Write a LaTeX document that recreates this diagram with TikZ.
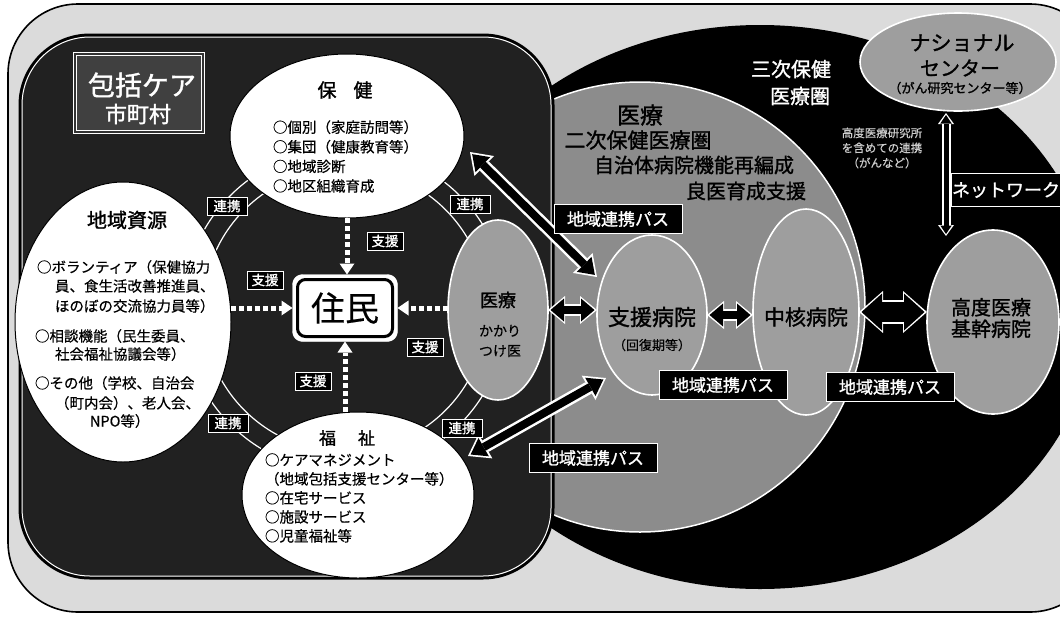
\documentclass[tikz,border=0pt]{standalone}
\usepackage{fontspec}
\setmainfont{Noto Sans CJK JP}[FakeBold=0.4]
\newfontfamily\jpb{Noto Sans CJK JP}[FakeBold=1.3]
\usetikzlibrary{shapes.geometric,arrows.meta,calc}
\definecolor{lite}{gray}{0.86}
\definecolor{dark}{gray}{0.13}
\definecolor{midg}{gray}{0.55}
\definecolor{ellg}{gray}{0.62}
\newcommand\fs[2]{\fontsize{#1}{#2}\selectfont}
\begin{document}
\begin{tikzpicture}[x=1pt,y=-1pt,
 every node/.style={inner sep=0pt,outer sep=0pt},
 wellipse/.style={ellipse, fill=white, draw=black, line width=1pt},
 gellipse/.style={ellipse, fill=ellg, draw=white, line width=1.6pt},
 tag/.style={fill=black, draw=white, line width=1pt, text=white},
 pathtag/.style={tag, font=\jpb\fs{17}{17}, minimum width=128pt, minimum height=29pt},
 supptag/.style={tag, font=\jpb\fs{13.5}{13.5}, minimum width=36pt, minimum height=18pt},
 linktag/.style={tag, font=\jpb\fs{13.5}{13.5}, minimum width=40pt, minimum height=18pt},
 body/.style={font=\fs{14.5}{19.6}, anchor=west, align=left},
 ttl/.style={font=\jpb\fs{#1}{#1}},
 dotarr/.style={draw=white, line width=5pt, dash pattern=on 5pt off 3pt, -{Triangle[length=11pt,width=15pt,line width=0pt]}},
 outW/.style={draw=white, line width=13pt, >={Triangle[length=20pt,width=28pt,line width=0pt]}, <->},
 outB/.style={draw=black, line width=8pt, shorten <=3pt, shorten >=3pt, >={Triangle[length=15pt,width=21pt,line width=0pt]}, <->},
 blkW/.style={draw=white, line width=12pt, >={Triangle[length=17pt,width=28pt,line width=0pt]}, <->},
 blkB/.style={draw=black, line width=8pt, shorten <=2.5pt, shorten >=2.5pt, >={Triangle[length=13.5pt,width=23pt,line width=0pt]}, <->},
 bigW/.style={draw=white, line width=24pt, >={Triangle[length=24pt,width=42pt,line width=0pt]}, <->},
 bigB/.style={draw=black, line width=20pt, shorten <=2.5pt, shorten >=2.5pt, >={Triangle[length=20.5pt,width=37pt,line width=0pt]}, <->},
 thinW/.style={draw=white, line width=9pt, >={Triangle[length=11pt,width=16pt,line width=0pt]}, <->},
 thinB/.style={draw=black, line width=5pt, shorten <=2pt, shorten >=2pt, >={Triangle[length=8.5pt,width=11.5pt,line width=0pt]}, <->}
]
\useasboundingbox (0,0) rectangle (1060,619);
\clip (0,0) rectangle (1060,619);

% outer frame and background regions
\draw[fill=lite, line width=1.6pt, rounded corners=70pt] (8,4) rectangle (1100,612);
\begin{scope}
 \clip[rounded corners=70pt] (8,4) rectangle (1100,612);
 \fill[black] (760,307) ellipse [x radius=336pt, y radius=282pt];
\end{scope}
\draw[fill=midg, draw=white, line width=1.5pt] (640,307) circle [radius=225pt];
\draw[fill=dark, draw=black, line width=3pt, rounded corners=70pt] (20,35) rectangle (553,578);
\draw[draw=white, line width=1pt, rounded corners=68pt] (22,37) rectangle (551,576);

% ring around residents
\draw[white, line width=1.2pt] (345,310) circle [radius=142pt];
\draw[white, line width=1.2pt] (345,310) circle [radius=162pt];

% municipality box
\node[draw=white, line width=1.2pt, double=black!80, double distance=2pt, fill=black!75, minimum width=128pt, minimum height=78pt] (hbox) at (139,93) {};
\node[ttl=27, text=white] (hboxT) at (142,85) {包括ケア};
\node[ttl=22, text=white] (hboxS) at (138,114) {市町村};

% health
\node[wellipse, minimum width=234pt, minimum height=164pt] (hoken) at (347,136) {};
\node[ttl=19] (hokenT) at (345,90) {保\hspace{17pt}健};
\node[body] (hokenL) at (273,156.5) {○個別（家庭訪問等）\\○集団（健康教育等）\\○地域診断\\○地区組織育成};

% local resources
\node[wellipse, minimum width=216pt, minimum height=280pt] (chiiki) at (123,322) {};
\node[ttl=20] (chiikiT) at (127,220) {地域資源};
\node[body] (c1) at (37,267) {○ボランティア（保健協力};
\node[body] (c2) at (55,286) {員、食生活改善推進員、};
\node[body] (c3) at (55,306) {ほのぼの交流協力員等）};
\node[body] (c4) at (35,336) {○相談機能（民生委員、};
\node[body] (c5) at (55,354) {社会福祉協議会等）};
\node[body] (c6) at (35,383) {○その他（学校、自治会};
\node[body] (c7) at (55,403) {（町内会）、老人会、};
\node[body] (c8) at (90,421) {NPO等）};

% welfare
\node[wellipse, minimum width=232pt, minimum height=166pt] (fukushi) at (358,495) {};
\node[ttl=17] (fukuT) at (347,438) {福\hspace{22pt}祉};
\node[body, font=\fs{14.5}{19}] (fukuL) at (265,498) {○ケアマネジメント\\（地域包括支援センター等）\\○在宅サービス\\○施設サービス\\○児童福祉等};

% residents
\node[fill=white, draw=white, rounded corners=10pt, minimum width=105pt, minimum height=67pt] (jumin) at (345,308) {};
\node[fill=white, draw=black, line width=3pt, rounded corners=8pt, minimum width=95pt, minimum height=57pt, font=\fs{34}{34}] (juminT) at (345,308) {住民};

% family doctor
\node[gellipse, minimum width=100pt, minimum height=180pt] (iryo) at (498,310) {};
\node[ttl=18] (iryoT) at (498,300) {医療};
\node[font=\fs{14}{20}, align=center] (iryoS) at (500,341) {かかり\\つけ医};

% hospitals
\node[gellipse, minimum width=110pt, minimum height=160pt] (shien) at (652,315) {};
\node[ttl=22] (shienT) at (652,317) {支援病院};
\node[font=\fs{13}{13}] (shienS) at (652,345) {（回復期等）};
\node[gellipse, minimum width=106pt, minimum height=206pt] (chukaku) at (806,312) {};
\node[ttl=21] (chukakuT) at (806,317) {中核病院};
\node[gellipse, minimum width=132pt, minimum height=184pt] (kodo) at (993,322) {};
\node[align=center, font=\jpb\fs{20}{21.5}] (kodoT) at (991,318) {高度医療\\基幹病院};
\node[gellipse, minimum width=196pt, minimum height=98pt] (national) at (958,62) {};
\node[ttl=21] (natT) at (962,43) {ナショナル};
\node[ttl=20] (natS) at (960,68) {センター};
\node[font=\jpb\fs{13}{13}] (natU) at (960,88) {（がん研究センター等）};

% region texts
\node[ttl=23] (g1) at (640,115) {医療};
\node[ttl=21] (g2) at (638,140) {二次保健医療圏};
\node[ttl=20] (g3) at (694,165) {自治体病院機能再編成};
\node[ttl=20] (g4) at (746,191) {良医育成支援};
\node[ttl=20, text=white] (b1) at (791,69) {三次保健};
\node[ttl=20, text=white] (b2) at (800,96) {医療圏};
\node[font=\fs{11.5}{15}, text=white!80!black, align=center] (b3) at (882,148) {高度医療研究所\\を含めての連携\\（がんなど）};

% support arrows
\draw[dotarr] (hoken.south) -- (hoken.south |- jumin.north);
\draw[dotarr] (jumin.west -| chiiki.east) -- (jumin.west);
\draw[dotarr] (jumin.east -| iryo.west) -- (jumin.east);
\draw[dotarr] (fukushi.north -| jumin.south) -- (jumin.south);

% fat arrows
\draw[blkW] (iryo.east) -- (iryo.east -| shien.west);
\draw[blkB] (iryo.east) -- (iryo.east -| shien.west);
\draw[blkW] (shien.east) -- (shien.east -| chukaku.west);
\draw[blkB] (shien.east) -- (shien.east -| chukaku.west);
\draw[bigW] (chukaku.east) -- (chukaku.east -| kodo.west);
\draw[bigB] (chukaku.east) -- (chukaku.east -| kodo.west);

% pathway arrows
\coordinate (a1s) at (470,152);
\coordinate (a1e) at (597,277);
\coordinate (a2s) at (606,378);
\coordinate (a2e) at (468,456);
\draw[outW] (a1s) -- (a1e);
\draw[outB] (a1s) -- (a1e);
\draw[outW] (a2s) -- (a2e);
\draw[outB] (a2s) -- (a2e);
\coordinate (v1) at (946,113);
\coordinate (v2) at (946,236);
\draw[thinW] (v1) -- (v2);
\draw[thinB] (v1) -- (v2);

% labels
\node[supptag] (s1) at (385,241) {支援};
\node[supptag] (s2) at (265,280) {支援};
\node[supptag] (s3) at (425,347) {支援};
\node[supptag] (s4) at (313,381) {支援};
\node[linktag] (k1) at (227,206) {連携};
\node[linktag] (k2) at (470,204) {連携};
\node[linktag] (k3) at (228,423) {連携};
\node[linktag] (k4) at (462,428) {連携};
\node[pathtag] (p1) at (618,219) {地域連携パス};
\node[pathtag] (p2) at (723,385) {地域連携パス};
\node[pathtag] (p3) at (890,387) {地域連携パス};
\node[pathtag] (p4) at (593,458) {地域連携パス};
\node[tag, font=\jpb\fs{18}{18}, minimum width=110pt, minimum height=33pt] (net) at (1006,190) {ネットワーク};
\end{tikzpicture}
\end{document}
